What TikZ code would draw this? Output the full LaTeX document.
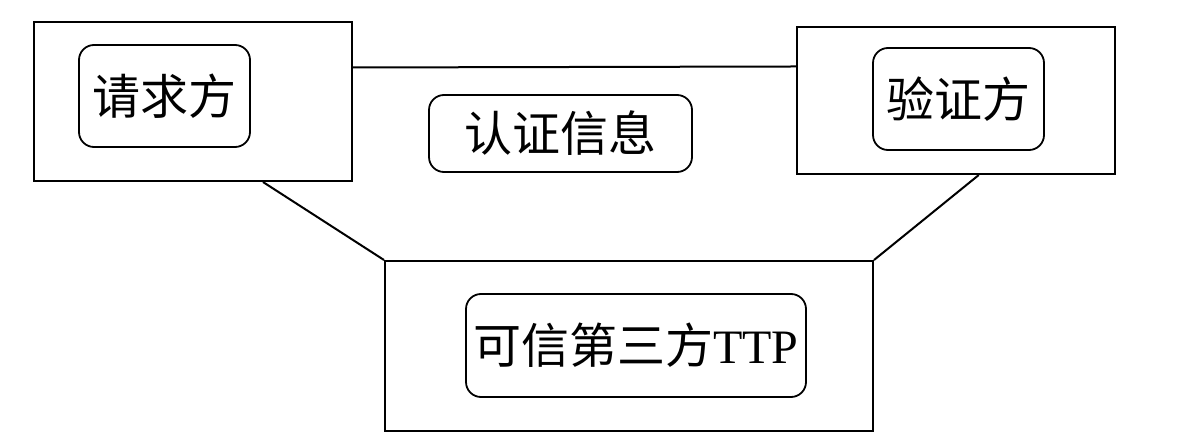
\documentclass[tikz,border=0pt]{standalone}
\usepackage{fontspec}
\setmainfont{Liberation Serif}
\newfontfamily\cjk{Noto Sans CJK SC}
\usetikzlibrary{positioning}

\begin{document}
\begin{tikzpicture}[
  x=0.5pt, y=-0.5pt,
  outer/.style={rectangle, draw, line width=1pt, inner sep=0pt},
  party/.style={rectangle, draw, line width=0.9pt, rounded corners=7.5pt, inner sep=0pt, align=center, font=\fontsize{24}{28}\selectfont\cjk},
  link/.style={line width=1pt}
]
\useasboundingbox (0,0) rectangle (1178,443);
% outer frames
\node[outer, minimum width=159pt, minimum height=79.5pt] (lbox) at (193,101.5) {};
\node[outer, minimum width=159pt, minimum height=73.5pt] (rbox) at (956,100.5) {};
\node[outer, minimum width=244pt, minimum height=85pt] (tbox) at (629,346) {};
% parties
\node[party, minimum width=85.5pt, minimum height=51pt] (req) at (164.5,96) {请求方};
\node[party, minimum width=85.5pt, minimum height=51pt] (ver) at (958.5,99) {验证方};
\node[party, minimum width=131.5pt, minimum height=38.5pt] (info) at (560.5,133.5) {认证信息};
\node[party, minimum width=170pt, minimum height=51.5pt] (ttp) at (636,345.5) {可信第三方{\rmfamily TTP}};

\draw[link] (lbox.12.2) -- (rbox.168.5);
\draw[link] (lbox.-49.5) -- (tbox.north west);
\draw[link] (rbox.-73.3) -- (tbox.north east);
\end{tikzpicture}
\end{document}
